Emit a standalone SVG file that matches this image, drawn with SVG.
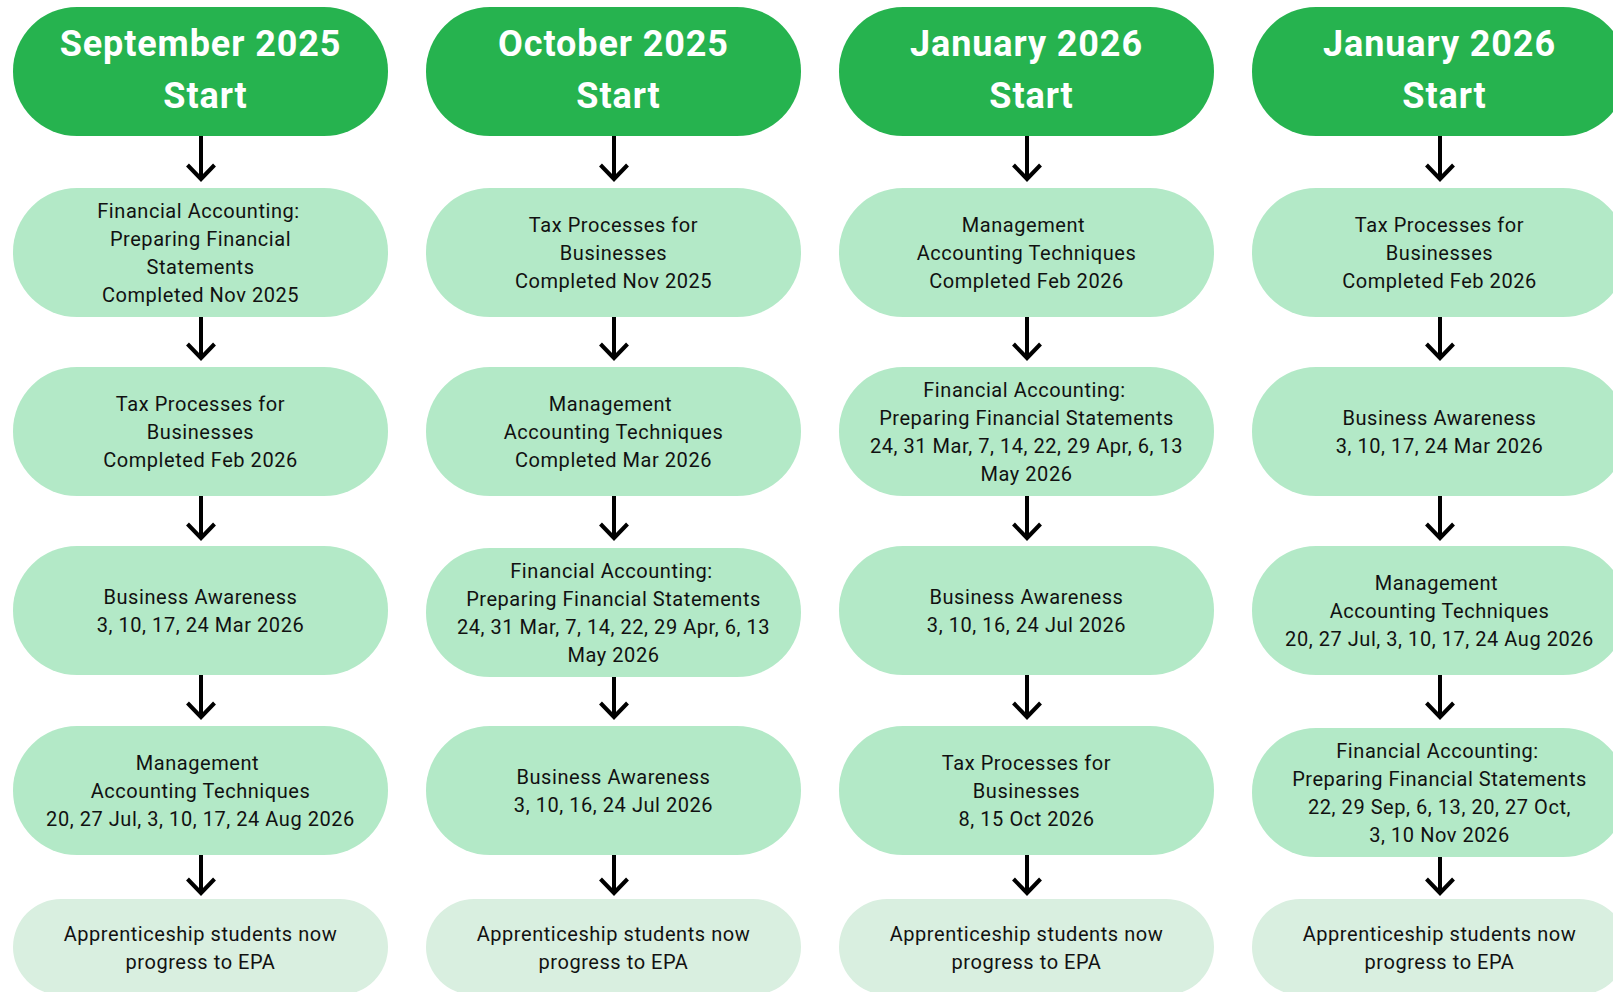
<svg xmlns="http://www.w3.org/2000/svg" width="1613" height="992" viewBox="0 0 1613 992">
<style>
.hdr{fill:#26B34F}
.step{fill:#B3E9C7}
.epa{fill:#D9EFE0}
.ht{font-family:Roboto,"Liberation Sans",sans-serif;font-weight:700;font-size:36px;letter-spacing:0.9px;fill:#FFFFFF;text-anchor:middle}
.bt{font-family:Roboto,"Liberation Sans",sans-serif;font-size:20px;letter-spacing:0.55px;fill:#111111;text-anchor:middle}
.arr{fill:none;stroke:#000;stroke-width:4}
</style>
<rect width="1613" height="992" fill="#FFFFFF"/>

<!-- Column 1 -->
<g id="c1-start"><rect class="hdr" x="13" y="7" width="375" height="129" rx="64"/>
<text class="ht" x="200.5" y="56">September 2025</text><text class="ht" x="205.5" y="108">Start</text></g>
<g id="c1-r1"><rect class="step" x="13" y="188" width="375" height="129" rx="64"/>
<text class="bt" x="198.5" y="217.5">Financial Accounting:</text><text class="bt" x="200.5" y="245.5">Preparing Financial</text><text class="bt" x="200.5" y="273.5">Statements</text><text class="bt" x="200.5" y="301.5">Completed Nov 2025</text></g>
<g id="c1-r2"><rect class="step" x="13" y="367" width="375" height="129" rx="64"/>
<text class="bt" x="200.5" y="410.5">Tax Processes for</text><text class="bt" x="200.5" y="438.5">Businesses</text><text class="bt" x="200.5" y="466.5">Completed Feb 2026</text></g>
<g id="c1-r3"><rect class="step" x="13" y="546" width="375" height="129" rx="64"/>
<text class="bt" x="200.5" y="603.5">Business Awareness</text><text class="bt" x="200.5" y="631.5">3, 10, 17, 24 Mar 2026</text></g>
<g id="c1-r4"><rect class="step" x="13" y="726" width="375" height="129" rx="64"/>
<text class="bt" x="197.5" y="769.5">Management</text><text class="bt" x="200.5" y="797.5">Accounting Techniques</text><text class="bt" x="200.5" y="825.5">20, 27 Jul, 3, 10, 17, 24 Aug 2026</text></g>
<g id="c1-epa"><rect class="epa" x="13" y="899" width="375" height="96" rx="48"/>
<text class="bt" x="200.5" y="940.5">Apprenticeship students now</text><text class="bt" x="200.5" y="968.5">progress to EPA</text></g>

<!-- Column 2 -->
<g id="c2-start"><rect class="hdr" x="426" y="7" width="375" height="129" rx="64"/>
<text class="ht" x="613.5" y="56">October 2025</text><text class="ht" x="618.5" y="108">Start</text></g>
<g id="c2-r1"><rect class="step" x="426" y="188" width="375" height="129" rx="64"/>
<text class="bt" x="613.5" y="231.5">Tax Processes for</text><text class="bt" x="613.5" y="259.5">Businesses</text><text class="bt" x="613.5" y="287.5">Completed Nov 2025</text></g>
<g id="c2-r2"><rect class="step" x="426" y="367" width="375" height="129" rx="64"/>
<text class="bt" x="610.5" y="410.5">Management</text><text class="bt" x="613.5" y="438.5">Accounting Techniques</text><text class="bt" x="613.5" y="466.5">Completed Mar 2026</text></g>
<g id="c2-r3"><rect class="step" x="426" y="548" width="375" height="129" rx="64"/>
<text class="bt" x="611.5" y="577.5">Financial Accounting:</text><text class="bt" x="613.5" y="605.5">Preparing Financial Statements</text><text class="bt" x="613.5" y="633.5">24, 31 Mar, 7, 14, 22, 29 Apr, 6, 13</text><text class="bt" x="613.5" y="661.5">May 2026</text></g>
<g id="c2-r4"><rect class="step" x="426" y="726" width="375" height="129" rx="64"/>
<text class="bt" x="613.5" y="783.5">Business Awareness</text><text class="bt" x="613.5" y="811.5">3, 10, 16, 24 Jul 2026</text></g>
<g id="c2-epa"><rect class="epa" x="426" y="899" width="375" height="96" rx="48"/>
<text class="bt" x="613.5" y="940.5">Apprenticeship students now</text><text class="bt" x="613.5" y="968.5">progress to EPA</text></g>

<!-- Column 3 -->
<g id="c3-start"><rect class="hdr" x="839" y="7" width="375" height="129" rx="64"/>
<text class="ht" x="1026.5" y="56">January 2026</text><text class="ht" x="1031.5" y="108">Start</text></g>
<g id="c3-r1"><rect class="step" x="839" y="188" width="375" height="129" rx="64"/>
<text class="bt" x="1023.5" y="231.5">Management</text><text class="bt" x="1026.5" y="259.5">Accounting Techniques</text><text class="bt" x="1026.5" y="287.5">Completed Feb 2026</text></g>
<g id="c3-r2"><rect class="step" x="839" y="367" width="375" height="129" rx="64"/>
<text class="bt" x="1024.5" y="396.5">Financial Accounting:</text><text class="bt" x="1026.5" y="424.5">Preparing Financial Statements</text><text class="bt" x="1026.5" y="452.5">24, 31 Mar, 7, 14, 22, 29 Apr, 6, 13</text><text class="bt" x="1026.5" y="480.5">May 2026</text></g>
<g id="c3-r3"><rect class="step" x="839" y="546" width="375" height="129" rx="64"/>
<text class="bt" x="1026.5" y="603.5">Business Awareness</text><text class="bt" x="1026.5" y="631.5">3, 10, 16, 24 Jul 2026</text></g>
<g id="c3-r4"><rect class="step" x="839" y="726" width="375" height="129" rx="64"/>
<text class="bt" x="1026.5" y="769.5">Tax Processes for</text><text class="bt" x="1026.5" y="797.5">Businesses</text><text class="bt" x="1026.5" y="825.5">8, 15 Oct 2026</text></g>
<g id="c3-epa"><rect class="epa" x="839" y="899" width="375" height="96" rx="48"/>
<text class="bt" x="1026.5" y="940.5">Apprenticeship students now</text><text class="bt" x="1026.5" y="968.5">progress to EPA</text></g>

<!-- Column 4 -->
<g id="c4-start"><rect class="hdr" x="1252" y="7" width="375" height="129" rx="64"/>
<text class="ht" x="1439.5" y="56">January 2026</text><text class="ht" x="1444.5" y="108">Start</text></g>
<g id="c4-r1"><rect class="step" x="1252" y="188" width="375" height="129" rx="64"/>
<text class="bt" x="1439.5" y="231.5">Tax Processes for</text><text class="bt" x="1439.5" y="259.5">Businesses</text><text class="bt" x="1439.5" y="287.5">Completed Feb 2026</text></g>
<g id="c4-r2"><rect class="step" x="1252" y="367" width="375" height="129" rx="64"/>
<text class="bt" x="1439.5" y="424.5">Business Awareness</text><text class="bt" x="1439.5" y="452.5">3, 10, 17, 24 Mar 2026</text></g>
<g id="c4-r3"><rect class="step" x="1252" y="546" width="375" height="129" rx="64"/>
<text class="bt" x="1436.5" y="589.5">Management</text><text class="bt" x="1439.5" y="617.5">Accounting Techniques</text><text class="bt" x="1439.5" y="645.5">20, 27 Jul, 3, 10, 17, 24 Aug 2026</text></g>
<g id="c4-r4"><rect class="step" x="1252" y="728" width="375" height="129" rx="64"/>
<text class="bt" x="1437.5" y="757.5">Financial Accounting:</text><text class="bt" x="1439.5" y="785.5">Preparing Financial Statements</text><text class="bt" x="1439.5" y="813.5">22, 29 Sep, 6, 13, 20, 27 Oct,</text><text class="bt" x="1439.5" y="841.5">3, 10 Nov 2026</text></g>
<g id="c4-epa"><rect class="epa" x="1252" y="899" width="375" height="96" rx="48"/>
<text class="bt" x="1439.5" y="940.5">Apprenticeship students now</text><text class="bt" x="1439.5" y="968.5">progress to EPA</text></g>

<!-- Connectors -->
<g id="connectors" class="arr">
<path d="M201 136V179M187.5 165L201 179L214.5 165"/>
<path d="M201 317V358M187.5 344L201 358L214.5 344"/>
<path d="M201 496V538M187.5 524L201 538L214.5 524"/>
<path d="M201 675V717M187.5 703L201 717L214.5 703"/>
<path d="M201 855V893M187.5 879L201 893L214.5 879"/>

<path d="M614 136V179M600.5 165L614 179L627.5 165"/>
<path d="M614 317V358M600.5 344L614 358L627.5 344"/>
<path d="M614 496V538M600.5 524L614 538L627.5 524"/>
<path d="M614 677V717M600.5 703L614 717L627.5 703"/>
<path d="M614 855V893M600.5 879L614 893L627.5 879"/>

<path d="M1027 136V179M1013.5 165L1027 179L1040.5 165"/>
<path d="M1027 317V358M1013.5 344L1027 358L1040.5 344"/>
<path d="M1027 496V538M1013.5 524L1027 538L1040.5 524"/>
<path d="M1027 675V717M1013.5 703L1027 717L1040.5 703"/>
<path d="M1027 855V893M1013.5 879L1027 893L1040.5 879"/>

<path d="M1440 136V179M1426.5 165L1440 179L1453.5 165"/>
<path d="M1440 317V358M1426.5 344L1440 358L1453.5 344"/>
<path d="M1440 496V538M1426.5 524L1440 538L1453.5 524"/>
<path d="M1440 675V717M1426.5 703L1440 717L1453.5 703"/>
<path d="M1440 857V893M1426.5 879L1440 893L1453.5 879"/>
</g>
</svg>
